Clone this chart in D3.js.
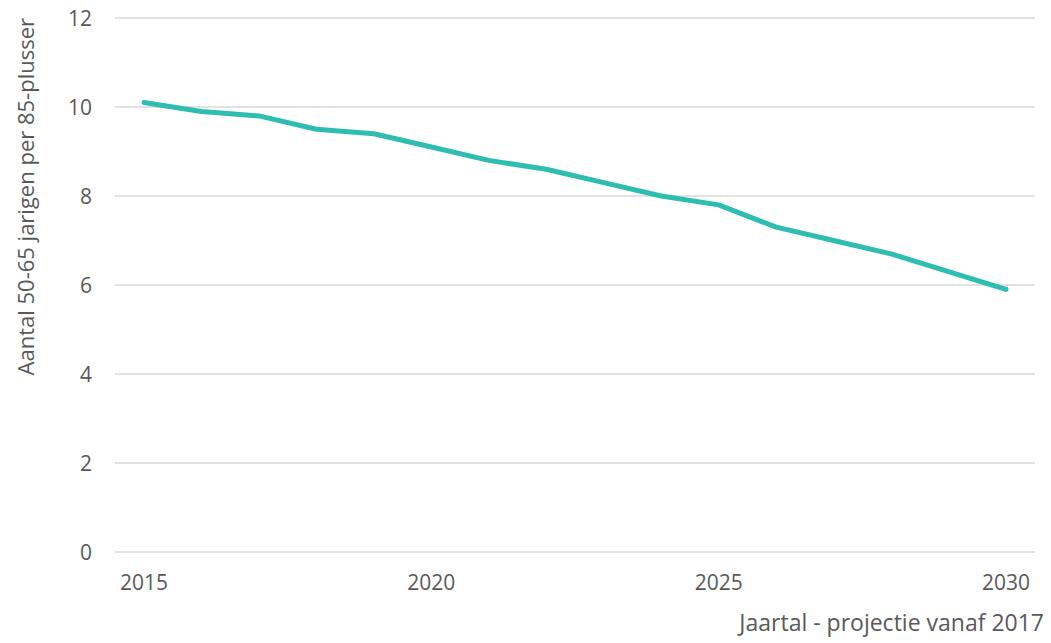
<!DOCTYPE html>
<html>
<head>
<meta charset="utf-8">
<script src="https://cdn.jsdelivr.net/npm/d3@7"></script>
<style>
  body { margin: 0; background: #fff; }
  text { font-family: "Open Sans", sans-serif; fill: #595959; }
</style>
</head>
<body>
<svg id="chart" width="1051" height="643"></svg>
<script>
var years  = [2015, 2016, 2017, 2018, 2019, 2020, 2021, 2022, 2023, 2024, 2025, 2026, 2027, 2028, 2029, 2030];
var values = [10.1, 9.9, 9.8, 9.5, 9.4, 9.1, 8.8, 8.6, 8.3, 8.0, 7.8, 7.3, 7.0, 6.7, 6.3, 5.9];
var yTicks = [0, 2, 4, 6, 8, 10, 12];
var xTicks = [2015, 2020, 2025, 2030];

var svg = d3.select('#chart');

var plot = { left: 115, right: 1035, top: 18, bottom: 552 };

var x = d3.scaleLinear()
    .domain([2015, 2030])
    .range([144, 1006]);

var y = d3.scaleLinear()
    .domain([0, 12])
    .range([plot.bottom, plot.top]);

// gridlines
svg.append('g')
    .selectAll('line')
    .data(yTicks)
    .enter().append('line')
    .attr('x1', plot.left)
    .attr('x2', plot.right)
    .attr('y1', d => y(d))
    .attr('y2', d => y(d))
    .attr('stroke', '#d9d9d9')
    .attr('stroke-width', 1.3)
;

// y axis labels
svg.append('g')
    .selectAll('text')
    .data(yTicks)
    .enter().append('text')
    .attr('x', 92)
    .attr('y', d => y(d) + 8)
    .attr('text-anchor', 'end')
    .style('font-size', '21px')
    .text(d => d)
;

// x axis labels
svg.append('g')
    .selectAll('text')
    .data(xTicks)
    .enter().append('text')
    .attr('x', d => x(d))
    .attr('y', 590)
    .attr('text-anchor', 'middle')
    .style('font-size', '21px')
    .text(d => d)
;

// axis titles
svg.append('text')
    .attr('x', 1044)
    .attr('y', 631)
    .attr('text-anchor', 'end')
    .style('font-size', '23px')
    .text('Jaartal - projectie vanaf 2017')
;

svg.append('text')
    .attr('transform', 'translate(34, 18) rotate(-90)')
    .attr('text-anchor', 'end')
    .style('font-size', '22px')
    .text('Aantal 50-65 jarigen per 85-plusser')
;

// line
var line = d3.line()
    .x((d, i) => x(years[i]))
    .y(d => y(d));

svg.append('path')
    .datum(values)
    .attr('d', line)
    .attr('fill', 'none')
    .attr('stroke', '#2ebdb1')
    .attr('stroke-width', 5)
    .attr('stroke-linecap', 'round')
    .attr('stroke-linejoin', 'round')
;
</script>
</body>
</html>
